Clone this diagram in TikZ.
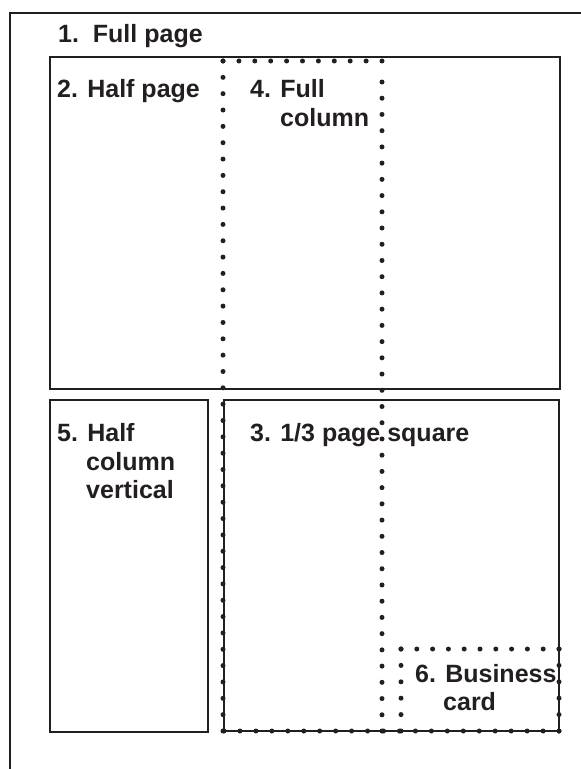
\documentclass[tikz,border=0pt]{standalone}
\usepackage{fontspec}
\setmainfont{Liberation Sans}
\definecolor{ink}{HTML}{231F20}
\begin{document}
\begin{tikzpicture}[x=1bp,y=-1bp,
  solidbox/.style={draw=ink, line width=2.8bp},
  lbl/.style={anchor=base west, inner sep=0pt, text=ink, font=\fontsize{25bp}{29bp}\selectfont\bfseries},
  dotdot/.style={fill=ink}]
\useasboundingbox (0,0) rectangle (581,769);
% outer frame (only top and left visible)
\coordinate (fbl) at (10,772);
\coordinate (ftl) at (10,13);
\coordinate (ftr) at (584,13);
\draw[solidbox] (fbl) -- (ftl) -- (ftr);
% solid boxes
\coordinate (hp1) at (50,57);   \coordinate (hp2) at (560,389);
\coordinate (hc1) at (50,400);  \coordinate (hc2) at (208,732);
\coordinate (sq1) at (224,400); \coordinate (sq2) at (559,731);
\draw[solidbox] (hp1) rectangle (hp2);
\draw[solidbox] (hc1) rectangle (hc2);
\draw[solidbox] (sq1) rectangle (sq2);
% dotted lines
\foreach \i in {0,...,10} \fill[dotdot] ({223+\i*15.9},61) circle[radius=2.5bp];
\foreach \i in {0,...,41} \fill[dotdot] (223,{61+\i*16.341}) circle[radius=2.5bp];
\foreach \i in {0,...,40} \fill[dotdot] (382,{82+\i*16.225}) circle[radius=2.5bp];
\foreach \i in {0,...,21} \fill[dotdot] ({224+\i*15.952},731) circle[radius=2.5bp];
\foreach \i in {0,...,10} \fill[dotdot] ({401+\i*15.8},649) circle[radius=2.5bp];
\foreach \i in {0,...,5} \fill[dotdot] (401,{649+\i*16.4}) circle[radius=2.5bp];
\foreach \i in {0,...,5} \fill[dotdot] (559,{649+\i*16.4}) circle[radius=2.5bp];
% labels
\node[lbl] (l1) at (58,43) {1.\ \ Full page};
\node[lbl] (l2) at (57,97) {2. Half page};
\node[lbl] (l4a) at (250,97) {4. Full};
\node[lbl] (l4b) at (280,126) {column};
\node[lbl] (l5a) at (57,441) {5. Half};
\node[lbl] (l5b) at (86,470) {column};
\node[lbl] (l5c) at (86,498) {vertical};
\node[lbl] (l3) at (250,441) {3. 1/3 page square};
\node[lbl] (l6a) at (415,682) {6. Business};
\node[lbl] (l6b) at (443,710) {card};
\end{tikzpicture}
\end{document}
